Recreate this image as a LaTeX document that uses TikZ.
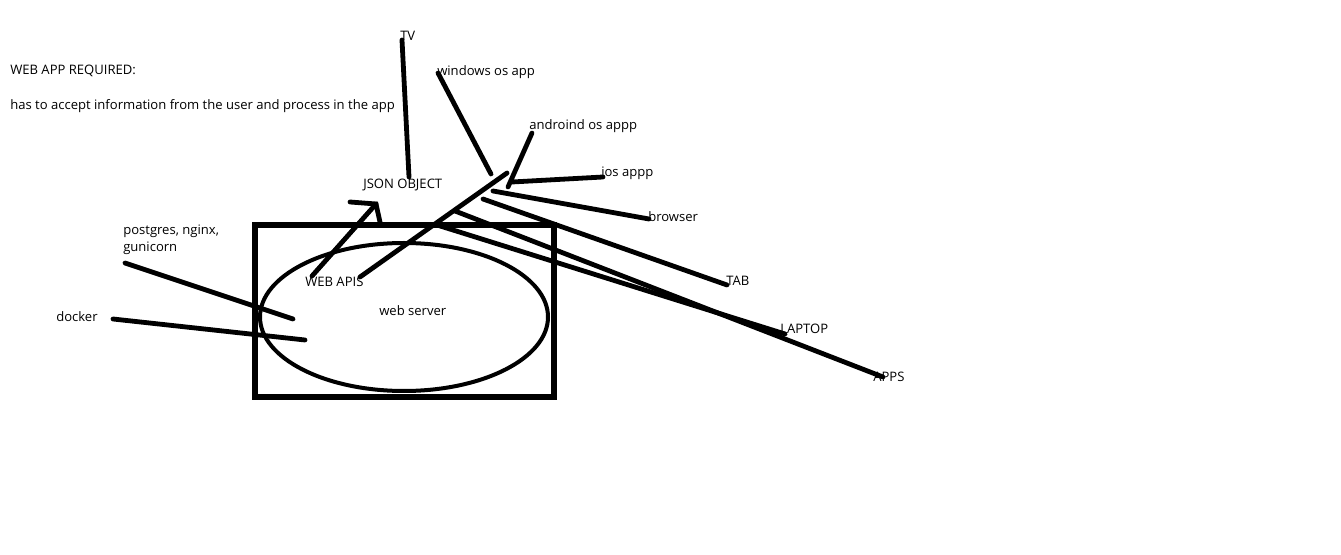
\documentclass[tikz,border=0pt]{standalone}
\usepackage{fontspec}
\setmainfont{Open Sans}
\usetikzlibrary{positioning}

\begin{document}
\begin{tikzpicture}[x=0.75pt,y=-0.75pt,font=\fontsize{9.8}{12.75}\selectfont,
 lbl/.style={anchor=west,inner sep=0pt},
 ln/.style={line width=3.6pt,line cap=round}]
 \useasboundingbox (0,0) rectangle (1341,555);
 % texts
 \node[lbl] (req) at (10,71) {WEB APP REQUIRED:};
 \node[lbl] (accept) at (10,106) {has to accept information from the user and process in the app};
 \node[lbl] (tv) at (400,36) {TV};
 \node[lbl] (win) at (437,72) {windows os app};
 \node[lbl] (andr) at (529,126) {androind os appp};
 \node[lbl] (ios) at (601,173) {ios appp};
 \node[lbl] (json) at (363,185) {JSON OBJECT};
 \node[lbl] (brow) at (648,217) {browser};
 \node[lbl,align=left] (stack) at (123,240) {postgres, nginx,\\gunicorn};
 \node[lbl] (apis) at (305,282) {WEB APIS};
 \node[lbl] (web) at (379,311) {web server};
 \node[lbl] (dock) at (56,317) {docker};
 \node[lbl] (tab) at (726,281) {TAB};
 \node[lbl] (lap) at (780,329) {LAPTOP};
 \node[lbl] (apps) at (873,377) {APPS};
 % server
 \draw[line width=3.8pt] (255,225) rectangle (554,397);
 \draw[line width=3pt] (404,317) ellipse [x radius=108pt, y radius=55.5pt];
 % stroke ends
 \coordinate (tvA) at (402,40);   \coordinate (tvB) at (409,177);
 \coordinate (winA) at (438,73);  \coordinate (winB) at (491,174);
 \coordinate (andA) at (532,133); \coordinate (andB) at (508,187);
 \coordinate (iosA) at (603,177); \coordinate (iosB) at (512,182);
 \coordinate (brA) at (649,219);  \coordinate (brB) at (493,191);
 \coordinate (tabA) at (727,285); \coordinate (tabB) at (483,199);
 \coordinate (lapA) at (785,334); \coordinate (lapB) at (437,225);
 \coordinate (appA) at (883,377); \coordinate (appB) at (455,211);
 \coordinate (apiA) at (360,277); \coordinate (apiB) at (507,173);
 \coordinate (jsA) at (312,276);  \coordinate (jsB) at (376,204);
 \coordinate (jsL) at (350,202);  \coordinate (jsR) at (380,222);
 \coordinate (pgA) at (125,263);  \coordinate (pgB) at (293,319);
 \coordinate (dkA) at (113,319);  \coordinate (dkB) at (305,340);
 \foreach \a/\b in {tvA/tvB,winA/winB,andA/andB,iosA/iosB,brA/brB,tabA/tabB,lapA/lapB,appA/appB,apiA/apiB,jsA/jsB,pgA/pgB,dkA/dkB}
   \draw[ln] (\a) -- (\b);
 \draw[ln] (jsL) -- (jsB) -- (jsR);
\end{tikzpicture}
\end{document}
